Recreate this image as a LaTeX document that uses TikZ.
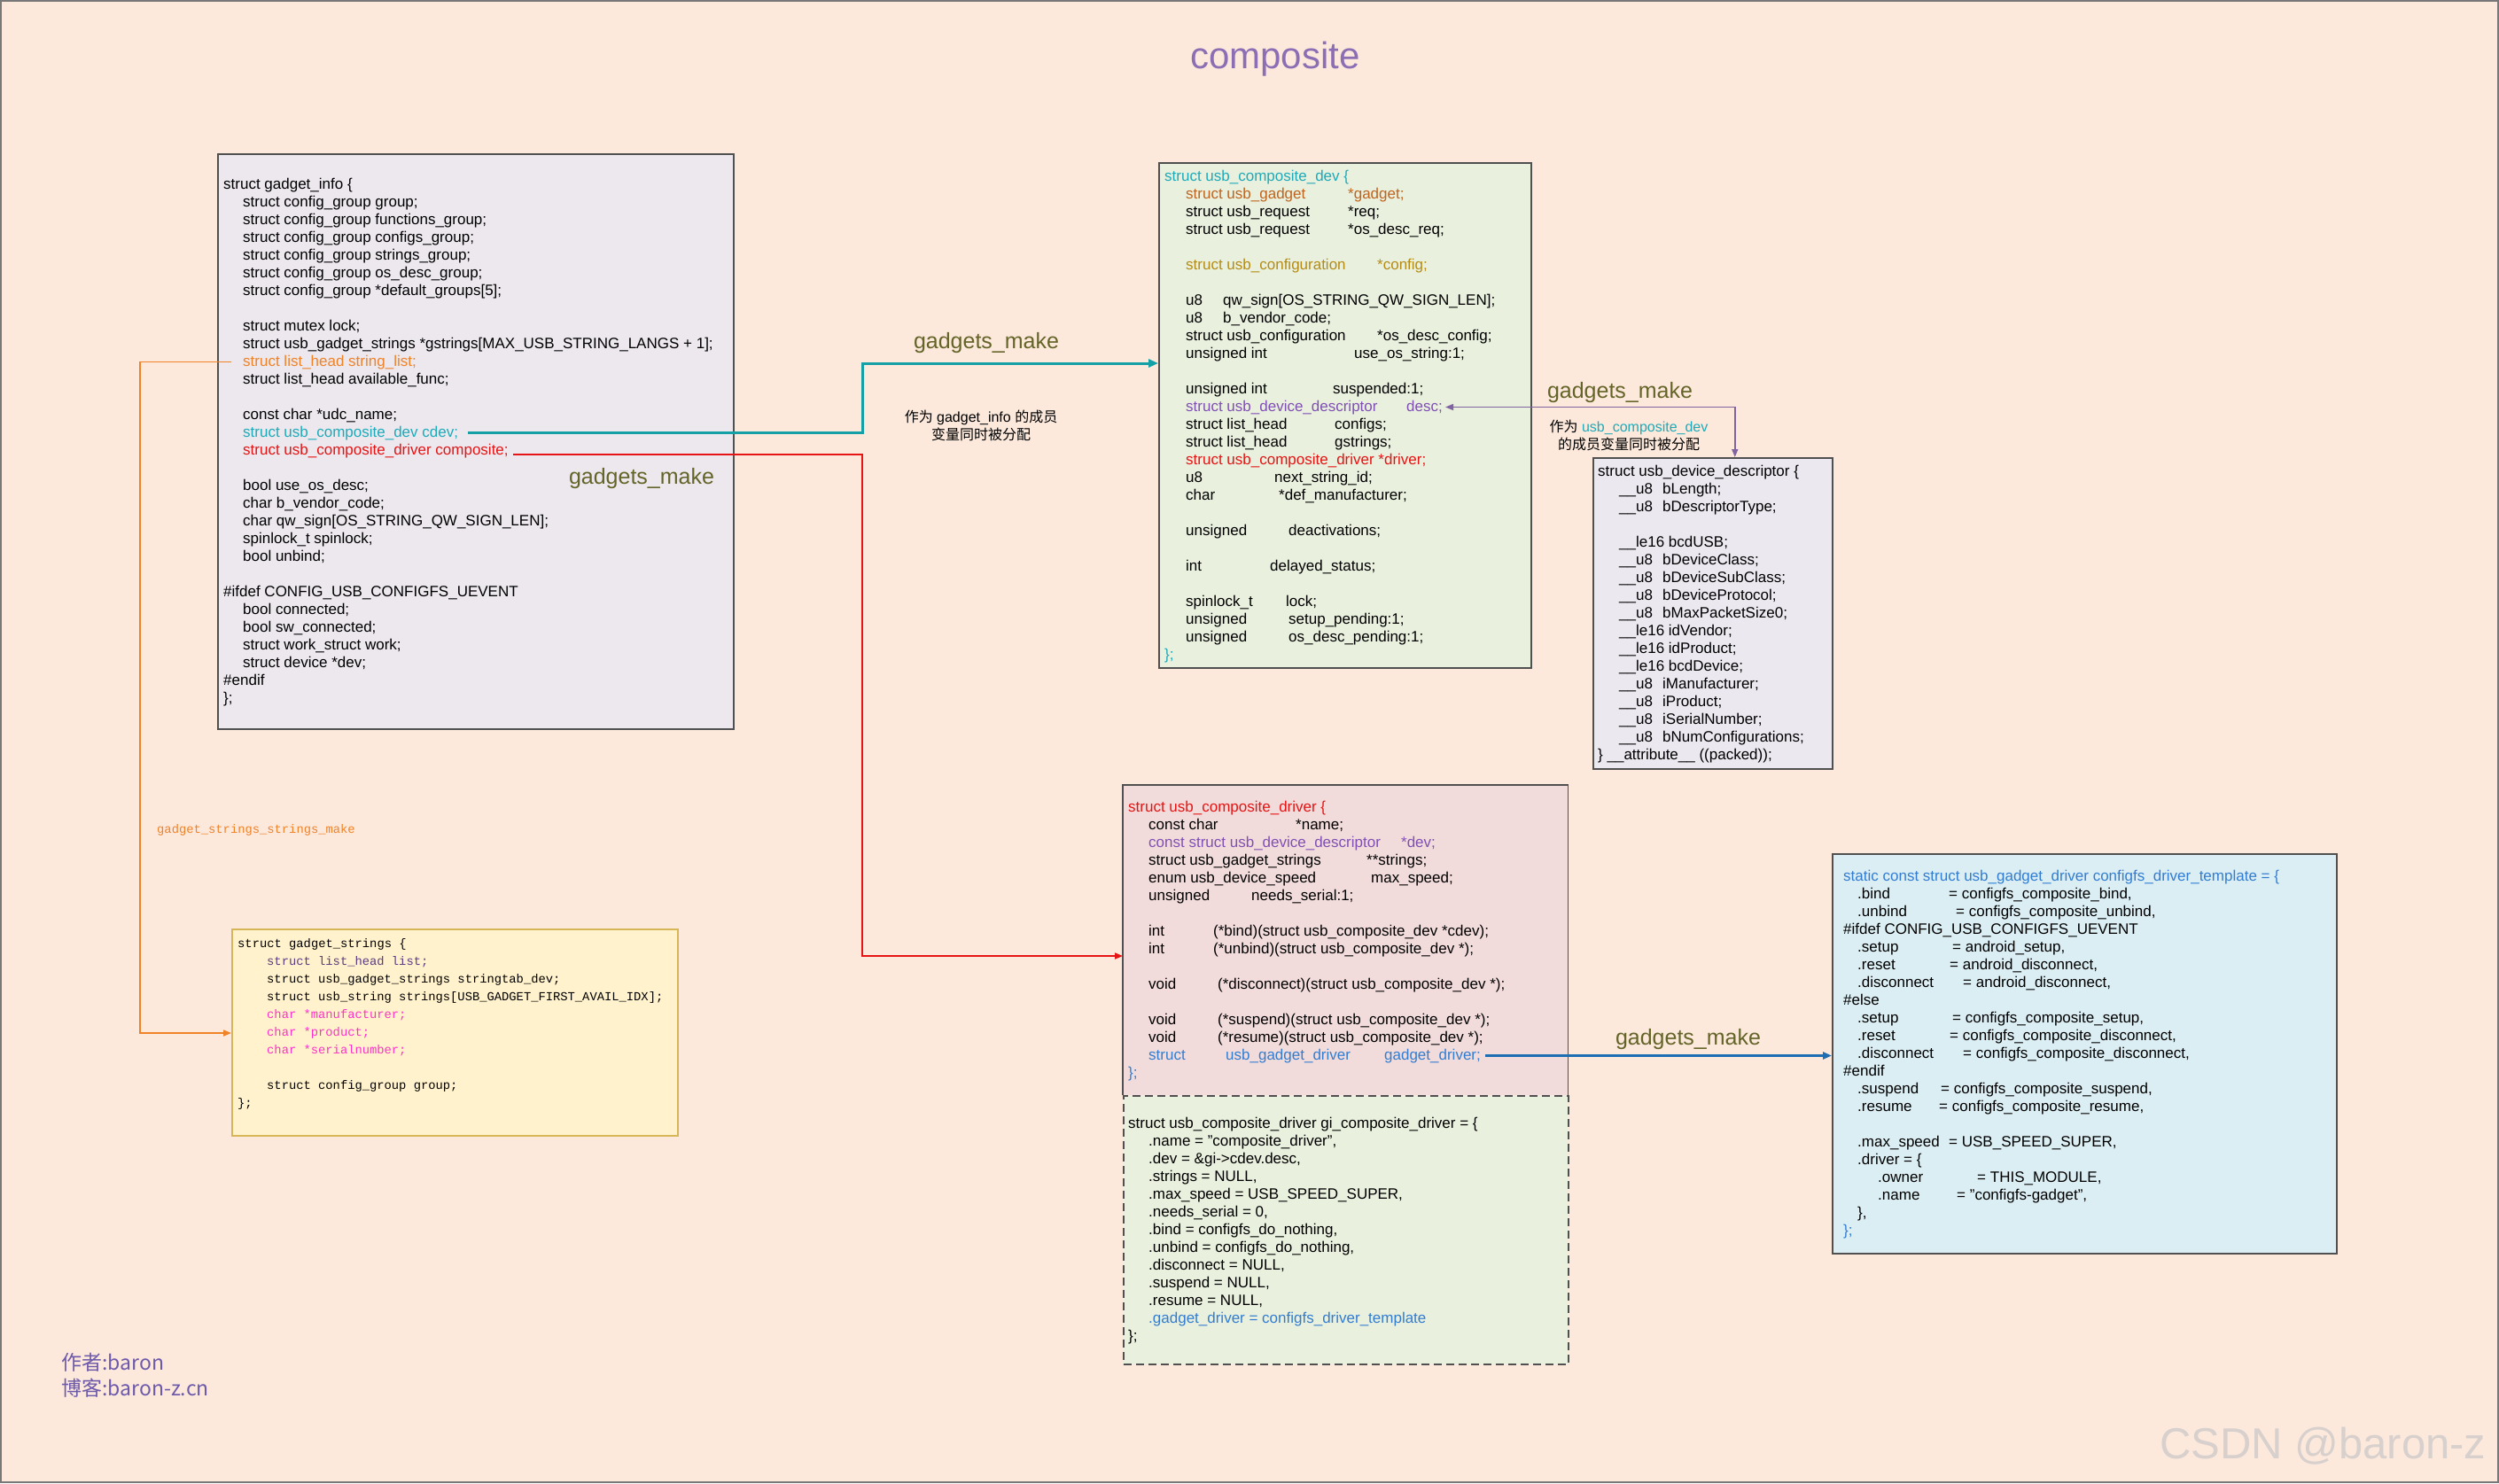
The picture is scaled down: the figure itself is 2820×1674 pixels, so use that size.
\documentclass[tikz,border=0pt]{standalone}
\usepackage{fontspec}
\setmainfont{Liberation Sans}
\newfontfamily\monof{Liberation Mono}
\newfontfamily\cjkf{Noto Sans CJK SC}
\usetikzlibrary{arrows.meta}
\definecolor{bgc}{RGB}{252,233,220}
\definecolor{framec}{RGB}{120,120,120}
\definecolor{boxc}{RGB}{80,80,80}
\definecolor{titlec}{RGB}{140,110,180}
\definecolor{olivec}{RGB}{100,100,40}
\definecolor{tealc}{RGB}{20,160,165}
\definecolor{tealt}{RGB}{30,170,185}
\definecolor{redc}{RGB}{230,20,20}
\definecolor{orangec}{RGB}{240,130,40}
\definecolor{bluec}{RGB}{30,110,180}
\definecolor{bluet}{RGB}{50,125,210}
\definecolor{purplec}{RGB}{128,100,162}
\definecolor{purplet}{RGB}{128,80,180}
\definecolor{brownt}{RGB}{190,100,30}
\definecolor{goldt}{RGB}{180,140,20}
\definecolor{magentat}{RGB}{255,50,200}
\definecolor{listt}{RGB}{90,60,130}
\definecolor{footc}{RGB}{110,90,170}
\definecolor{wmc}{RGB}{215,208,205}
\definecolor{fillinfo}{RGB}{236,232,238}
\definecolor{fillgreen}{RGB}{233,240,222}
\definecolor{filldesc}{RGB}{236,232,240}
\definecolor{fillpink}{RGB}{242,220,219}
\definecolor{fillblue}{RGB}{219,238,244}
\definecolor{fillyellow}{RGB}{255,242,204}
\definecolor{yellowborder}{RGB}{214,182,86}
\newcommand\cb[2]{\makebox[#1pt][l]{#2}}
\begin{document}
\begin{tikzpicture}[x=1pt,y=-1pt,
  code/.style={anchor=base west, inner sep=0pt, font=\fontsize{17pt}{20pt}\selectfont, text height=12.5pt, text depth=3.5pt},
  monocode/.style={anchor=base west, inner sep=0pt, font=\monof\fontsize{13.8pt}{20pt}\selectfont, text height=10pt, text depth=3pt},
  codebox/.style={draw=boxc, line width=1.5pt, anchor=north west, inner sep=0pt},
  lbl/.style={font=\fontsize{25pt}{30pt}\selectfont, text=olivec, inner sep=0pt},
  note/.style={font=\fontsize{16pt}{20pt}\selectfont, align=center, inner sep=0pt},
  tip/.style={-{Triangle[length=11pt,width=9pt]}},
  tline/.style={draw=tealc, line width=3pt, tip},
  rline/.style={draw=redc, line width=1.6pt, -{Triangle[length=9pt,width=7pt]}},
  oline/.style={draw=orangec, line width=1.6pt, -{Triangle[length=9pt,width=7pt]}},
  bline/.style={draw=bluec, line width=2.5pt, -{Triangle[length=10pt,width=8pt]}},
  pline/.style={draw=purplec, line width=1.6pt, {Triangle[length=9pt,width=7pt]}-{Triangle[length=9pt,width=7pt]}}
]
\useasboundingbox (0,0) rectangle (2820,1674);
\fill[bgc] (0,0) rectangle (2820,1674);
\draw[framec, line width=2pt] (1,1) rectangle (2819,1673);

% title
\node[font=\fontsize{42pt}{50pt}\selectfont, text=titlec, inner sep=0pt] (title) at (1439,67) {composite};

% ---------------- gadget_info ----------------
\node[codebox, fill=fillinfo, minimum width=582pt, minimum height=649pt] (gibox) at (245,173) {};
\node[code] (gi0) at (252,213) {struct gadget\_info \{};
\node[code] (gi1) at (274,233) {struct config\_group group;};
\node[code] (gi2) at (274,253) {struct config\_group functions\_group;};
\node[code] (gi3) at (274,273) {struct config\_group configs\_group;};
\node[code] (gi4) at (274,293) {struct config\_group strings\_group;};
\node[code] (gi5) at (274,313) {struct config\_group os\_desc\_group;};
\node[code] (gi6) at (274,333) {struct config\_group *default\_groups[5];};
\node[code] (gi8) at (274,373) {struct mutex lock;};
\node[code] (gi9) at (274,393) {struct usb\_gadget\_strings *gstrings[MAX\_USB\_STRING\_LANGS + 1];};
\node[code, text=orangec] (gi10) at (274,413) {struct list\_head string\_list;};
\node[code] (gi11) at (274,433) {struct list\_head available\_func;};
\node[code] (gi13) at (274,473) {const char *udc\_name;};
\node[code, text=tealt] (gi14) at (274,493) {struct usb\_composite\_dev cdev;};
\node[code, text=redc] (gi15) at (274,513) {struct usb\_composite\_driver composite;};
\node[code] (gi17) at (274,553) {bool use\_os\_desc;};
\node[code] (gi18) at (274,573) {char b\_vendor\_code;};
\node[code] (gi19) at (274,593) {char qw\_sign[OS\_STRING\_QW\_SIGN\_LEN];};
\node[code] (gi20) at (274,613) {spinlock\_t spinlock;};
\node[code] (gi21) at (274,633) {bool unbind;};
\node[code] (gi23) at (252,673) {\#ifdef CONFIG\_USB\_CONFIGFS\_UEVENT};
\node[code] (gi24) at (274,693) {bool connected;};
\node[code] (gi25) at (274,713) {bool sw\_connected;};
\node[code] (gi26) at (274,733) {struct work\_struct work;};
\node[code] (gi27) at (274,753) {struct device *dev;};
\node[code] (gi28) at (252,773) {\#endif};
\node[code] (gi29) at (252,793) {\};};

% ---------------- usb_composite_dev ----------------
\node[codebox, fill=fillgreen, minimum width=420pt, minimum height=570pt] (cdbox) at (1307,183) {};
\node[code, text=tealt] (cd0) at (1314,204) {struct usb\_composite\_dev \{};
\node[code, text=brownt] (cd1) at (1338,224) {\cb{183}{struct usb\_gadget}*gadget;};
\node[code] (cd2) at (1338,244) {\cb{183}{struct usb\_request}*req;};
\node[code] (cd3) at (1338,264) {\cb{183}{struct usb\_request}*os\_desc\_req;};
\node[code, text=goldt] (cd5) at (1338,304) {\cb{216}{struct usb\_configuration}*config;};
\node[code] (cd7) at (1338,344) {\cb{42}{u8}qw\_sign[OS\_STRING\_QW\_SIGN\_LEN];};
\node[code] (cd8) at (1338,364) {\cb{42}{u8}b\_vendor\_code;};
\node[code] (cd9) at (1338,384) {\cb{216}{struct usb\_configuration}*os\_desc\_config;};
\node[code] (cd10) at (1338,404) {\cb{190}{unsigned int}use\_os\_string:1;};
\node[code] (cd12) at (1338,444) {\cb{166}{unsigned int}suspended:1;};
\node[code, text=purplet] (cd13) at (1338,464) {\cb{249}{struct usb\_device\_descriptor}desc;};
\node[code] (cd14) at (1338,484) {\cb{168}{struct list\_head}configs;};
\node[code] (cd15) at (1338,504) {\cb{168}{struct list\_head}gstrings;};
\node[code, text=redc] (cd16) at (1338,524) {struct usb\_composite\_driver *driver;};
\node[code] (cd17) at (1338,544) {\cb{100}{u8}next\_string\_id;};
\node[code] (cd18) at (1338,564) {\cb{105}{char}*def\_manufacturer;};
\node[code] (cd20) at (1338,604) {\cb{116}{unsigned}deactivations;};
\node[code] (cd22) at (1338,644) {\cb{95}{int}delayed\_status;};
\node[code] (cd24) at (1338,684) {\cb{113}{spinlock\_t}lock;};
\node[code] (cd25) at (1338,704) {\cb{116}{unsigned}setup\_pending:1;};
\node[code] (cd26) at (1338,724) {\cb{116}{unsigned}os\_desc\_pending:1;};
\node[code, text=tealt] (cd27) at (1314,744) {\};};

% ---------------- usb_device_descriptor ----------------
\node[codebox, fill=filldesc, minimum width=270pt, minimum height=351pt] (ddbox) at (1797,516) {};
\node[code] (dd0) at (1803,537) {struct usb\_device\_descriptor \{};
\node[code] (dd1) at (1827,557) {\cb{49}{\_\_u8}bLength;};
\node[code] (dd2) at (1827,577) {\cb{49}{\_\_u8}bDescriptorType;};
\node[code] (dd4) at (1827,617) {\_\_le16 bcdUSB;};
\node[code] (dd5) at (1827,637) {\cb{49}{\_\_u8}bDeviceClass;};
\node[code] (dd6) at (1827,657) {\cb{49}{\_\_u8}bDeviceSubClass;};
\node[code] (dd7) at (1827,677) {\cb{49}{\_\_u8}bDeviceProtocol;};
\node[code] (dd8) at (1827,697) {\cb{49}{\_\_u8}bMaxPacketSize0;};
\node[code] (dd9) at (1827,717) {\_\_le16 idVendor;};
\node[code] (dd10) at (1827,737) {\_\_le16 idProduct;};
\node[code] (dd11) at (1827,757) {\_\_le16 bcdDevice;};
\node[code] (dd12) at (1827,777) {\cb{49}{\_\_u8}iManufacturer;};
\node[code] (dd13) at (1827,797) {\cb{49}{\_\_u8}iProduct;};
\node[code] (dd14) at (1827,817) {\cb{49}{\_\_u8}iSerialNumber;};
\node[code] (dd15) at (1827,837) {\cb{49}{\_\_u8}bNumConfigurations;};
\node[code] (dd16) at (1803,857) {\} \_\_attribute\_\_ ((packed));};

% ---------------- usb_composite_driver ----------------
\node[anchor=north west, inner sep=0pt, fill=fillpink, minimum width=502pt, minimum height=350pt] (ucdbox) at (1267,886) {};
\draw[boxc, line width=1.5pt] (ucdbox.south west) |- (ucdbox.north east) -- (ucdbox.south east);
\node[code, text=redc] (ucd0) at (1273,916) {struct usb\_composite\_driver \{};
\node[code] (ucd1) at (1296,936) {\cb{166}{const char}*name;};
\node[code, text=purplet] (ucd2) at (1296,956) {\cb{285}{const struct usb\_device\_descriptor}*dev;};
\node[code] (ucd3) at (1296,976) {\cb{246}{struct usb\_gadget\_strings}**strings;};
\node[code] (ucd4) at (1296,996) {\cb{251}{enum usb\_device\_speed}max\_speed;};
\node[code] (ucd5) at (1296,1016) {\cb{116}{unsigned}needs\_serial:1;};
\node[code] (ucd7) at (1296,1056) {\cb{73}{int}(*bind)(struct usb\_composite\_dev *cdev);};
\node[code] (ucd8) at (1296,1076) {\cb{73}{int}(*unbind)(struct usb\_composite\_dev *);};
\node[code] (ucd10) at (1296,1116) {\cb{78}{void}(*disconnect)(struct usb\_composite\_dev *);};
\node[code] (ucd12) at (1296,1156) {\cb{78}{void}(*suspend)(struct usb\_composite\_dev *);};
\node[code] (ucd13) at (1296,1176) {\cb{78}{void}(*resume)(struct usb\_composite\_dev *);};
\node[code, text=bluet] (ucd14) at (1296,1196) {\cb{87}{struct}\cb{179}{usb\_gadget\_driver}gadget\_driver;};
\node[code, text=bluet] (ucd15) at (1273,1216) {\};};

% ---------------- gi_composite_driver ----------------
\node[codebox, fill=fillgreen, dash pattern=on 9pt off 5pt, line width=1.5pt, minimum width=502pt, minimum height=303pt] (gcdbox) at (1267,1236) {};
\node[code] (gcd0) at (1273,1273) {struct usb\_composite\_driver gi\_composite\_driver = \{};
\node[code] (gcd1) at (1296,1293) {.name = "composite\_driver",};
\node[code] (gcd2) at (1296,1313) {.dev = \&gi->cdev.desc,};
\node[code] (gcd3) at (1296,1333) {.strings = NULL,};
\node[code] (gcd4) at (1296,1353) {.max\_speed = USB\_SPEED\_SUPER,};
\node[code] (gcd5) at (1296,1373) {.needs\_serial = 0,};
\node[code] (gcd6) at (1296,1393) {.bind = configfs\_do\_nothing,};
\node[code] (gcd7) at (1296,1413) {.unbind = configfs\_do\_nothing,};
\node[code] (gcd8) at (1296,1433) {.disconnect = NULL,};
\node[code] (gcd9) at (1296,1453) {.suspend = NULL,};
\node[code] (gcd10) at (1296,1473) {.resume = NULL,};
\node[code, text=bluet] (gcd11) at (1296,1493) {.gadget\_driver = configfs\_driver\_template};
\node[code] (gcd12) at (1273,1513) {\};};

% ---------------- configfs_driver_template ----------------
\node[codebox, fill=fillblue, minimum width=569pt, minimum height=451pt] (tplbox) at (2067,963) {};
\node[code, text=bluet] (tp0) at (2080,994) {static const struct usb\_gadget\_driver configfs\_driver\_template = \{};
\node[code] (tp1) at (2096,1014) {\cb{103}{.bind}= configfs\_composite\_bind,};
\node[code] (tp2) at (2096,1034) {\cb{111}{.unbind}= configfs\_composite\_unbind,};
\node[code] (tp3) at (2080,1054) {\#ifdef CONFIG\_USB\_CONFIGFS\_UEVENT};
\node[code] (tp4) at (2096,1074) {\cb{107}{.setup}= android\_setup,};
\node[code] (tp5) at (2096,1094) {\cb{104}{.reset}= android\_disconnect,};
\node[code] (tp6) at (2096,1114) {\cb{119}{.disconnect}= android\_disconnect,};
\node[code] (tp7) at (2080,1134) {\#else};
\node[code] (tp8) at (2096,1154) {\cb{107}{.setup}= configfs\_composite\_setup,};
\node[code] (tp9) at (2096,1174) {\cb{104}{.reset}= configfs\_composite\_disconnect,};
\node[code] (tp10) at (2096,1194) {\cb{119}{.disconnect}= configfs\_composite\_disconnect,};
\node[code] (tp11) at (2080,1214) {\#endif};
\node[code] (tp12) at (2096,1234) {\cb{94}{.suspend}= configfs\_composite\_suspend,};
\node[code] (tp13) at (2096,1254) {\cb{92}{.resume}= configfs\_composite\_resume,};
\node[code] (tp15) at (2096,1294) {\cb{103}{.max\_speed}= USB\_SPEED\_SUPER,};
\node[code] (tp16) at (2096,1314) {.driver = \{};
\node[code] (tp17) at (2119,1334) {\cb{112}{.owner}= THIS\_MODULE,};
\node[code] (tp18) at (2119,1354) {\cb{89}{.name}= "configfs-gadget",};
\node[code] (tp19) at (2096,1374) {\},};
\node[code, text=bluet] (tp20) at (2080,1394) {\};};

% ---------------- gadget_strings ----------------
\node[draw=yellowborder, line width=1.5pt, anchor=north west, inner sep=0pt, fill=fillyellow, minimum width=503pt, minimum height=233pt] (gsbox) at (261,1048) {};
\node[monocode] (gs0) at (268,1069) {struct gadget\_strings \{};
\node[monocode, text=listt] (gs1) at (301,1089) {struct list\_head list;};
\node[monocode] (gs2) at (301,1109) {struct usb\_gadget\_strings stringtab\_dev;};
\node[monocode] (gs3) at (301,1129) {struct usb\_string strings[USB\_GADGET\_FIRST\_AVAIL\_IDX];};
\node[monocode, text=magentat] (gs4) at (301,1149) {char *manufacturer;};
\node[monocode, text=magentat] (gs5) at (301,1169) {char *product;};
\node[monocode, text=magentat] (gs6) at (301,1189) {char *serialnumber;};
\node[monocode] (gs8) at (301,1229) {struct config\_group group;};
\node[monocode] (gs9) at (268,1249) {\};};

% ---------------- connectors ----------------
\coordinate (tk) at (973,410);
\draw[tline] ([xshift=11pt]gi14.east) -| (tk) -- (tk -| cdbox.west);
\coordinate (rk) at (973,1079);
\draw[rline] ([xshift=5pt,yshift=-4.5pt]gi15.east) -| (rk) -- (rk -| ucdbox.west);
\coordinate (ok) at (158,1166);
\draw[oline] ([xshift=-13pt]gi10.west) -| (ok) -- (ok -| gsbox.west);
\draw[pline] ([xshift=3pt]cd13.east) -| ([xshift=25pt]ddbox.north);
\draw[bline] ([xshift=5pt]ucd14.east) -- (ucd14.east -| tplbox.west);

% ---------------- labels ----------------
\node[lbl] (lblA) at (1113,387) {gadgets\_make};
\node[lbl] (lblB) at (724,540) {gadgets\_make};
\node[lbl] (lblC) at (1828,443) {gadgets\_make};
\node[lbl] (lblD) at (1905,1173) {gadgets\_make};
\node[note] (noteA) at (1107,480) {{\cjkf 作为} gadget\_info {\cjkf 的成员}\\{\cjkf 变量同时被分配}};
\node[note] (noteB) at (1838,491) {{\cjkf 作为} \textcolor{tealt}{usb\_composite\_dev}\\{\cjkf 的成员变量同时被分配}};
\node[font=\monof\fontsize{13.8pt}{16pt}\selectfont, text=orangec, inner sep=0pt] (lblO) at (289,937) {gadget\_strings\_strings\_make};

% footer
\node[anchor=west, inner sep=0pt, text=footc, font=\cjkf\fontsize{23pt}{28pt}\selectfont] (author) at (69,1538) {作者:baron};
\node[anchor=west, inner sep=0pt, text=footc, font=\cjkf\fontsize{23pt}{28pt}\selectfont] (blog) at (69,1567) {博客:baron-z.cn};
\node[anchor=base west, inner sep=0pt, text=wmc, font=\fontsize{49pt}{56pt}\selectfont] (wm) at (2437,1646) {CSDN @baron-z};
\end{tikzpicture}
\end{document}
